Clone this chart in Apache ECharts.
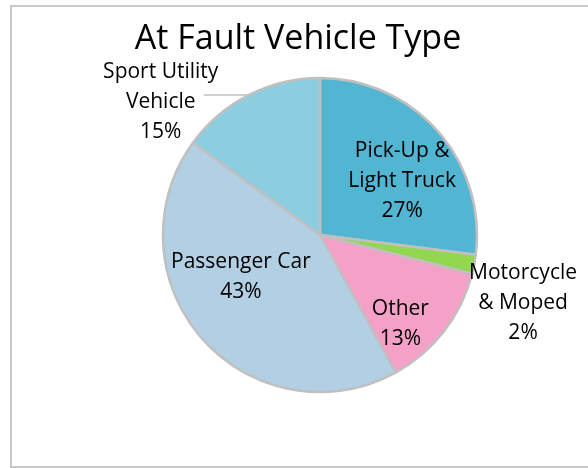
<!DOCTYPE html>
<html>
<head>
<meta charset="utf-8">
<script src="https://cdn.jsdelivr.net/npm/echarts@6/dist/echarts.min.js"></script>
<style>
  html, body { margin: 0; padding: 0; background: #fff; }
  #chart { width: 588px; height: 468px; }
</style>
</head>
<body>
<div id="chart"></div>
<script>
// slices, clockwise from 12 o'clock
var names = ['Pick-Up &\nLight Truck', 'Motorcycle\n& Moped', 'Other', 'Passenger Car', 'Sport Utility\nVehicle'];
var values = [27, 2, 13, 43, 15];
var colors = ['#52b6d2', '#93d751', '#f5a0c6', '#b3cfe3', '#8ccde0'];

// nudge from the default inside label spot (Excel puts them elsewhere)
var labelShift = [[21, 0], [123, 53], [16, 39], [-18, -12], [0, 0]];
var SUV = 4;

var chart = echarts.init(document.getElementById('chart'));

var data = [];
for (var i = 0; i < names.length; i++) {
  data.push({
    name: names[i],
    value: values[i],
    itemStyle: { color: colors[i] }
  });
}
data[SUV].label = { position: 'outside' };
data[SUV].labelLine = { show: true, length: 0, length2: 45 };

var option = {
  animation: false,
  title: {
    text: 'At Fault Vehicle Type',
    left: 293,
    top: 17,
    textAlign: 'center',
    textStyle: { fontFamily: 'Open Sans', fontSize: 34, fontWeight: 'normal', color: '#000' }
  },
  graphic: [{
    type: 'rect',
    shape: { x: 11, y: 6, width: 620, height: 461 },
    style: { fill: 'none', stroke: '#c8c8c8', lineWidth: 2 },
    silent: true
  }],
  series: [{
    type: 'pie',
    center: [320, 235],
    radius: 157,
    startAngle: 90,
    clockwise: true,
    data: data,
    itemStyle: { borderColor: '#c0c0c0', borderWidth: 2.5 },
    label: {
      show: true,
      position: 'inside',
      formatter: function (p) { return p.name + '\n' + Math.round(p.percent) + '%'; },
      fontFamily: 'Open Sans',
      fontSize: 21,
      lineHeight: 30,
      color: '#000'
    },
    labelLine: { show: false, lineStyle: { color: '#bfbfbf', width: 1.5 } },
    labelLayout: function (p) {
      var i = p.dataIndex;
      var r = p.labelRect;
      if (i === SUV && p.labelLinePoints) {
        var e = p.labelLinePoints[0];
        return {
          x: e[0] - 88,
          y: e[1] + 7,
          align: 'center',
          verticalAlign: 'middle',
          labelLinePoints: [e, [e[0] - 45, e[1]], [e[0] - 45, e[1]]]
        };
      }
      return {
        x: r.x + r.width / 2 + labelShift[i][0],
        y: r.y + r.height / 2 + labelShift[i][1],
        align: 'center',
        verticalAlign: 'middle'
      };
    }
  }]
};

chart.setOption(option);
</script>
</body>
</html>
